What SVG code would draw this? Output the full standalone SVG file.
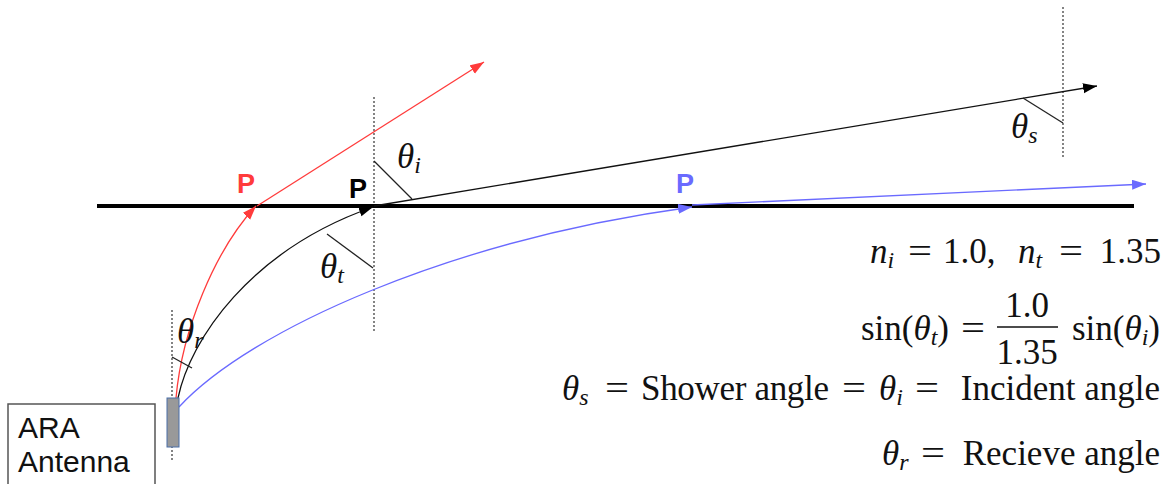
<svg xmlns="http://www.w3.org/2000/svg" width="1169" height="484" viewBox="0 0 1169 484">
<style>
.dot{stroke:#333;stroke-width:1.2;stroke-dasharray:2 2;fill:none}
.tick{stroke:#222;stroke-width:1.3;fill:none}
.m{font-family:"Liberation Serif","Times New Roman",serif;font-size:35px;fill:#111}
.mi{font-family:"Liberation Serif","Times New Roman",serif;font-size:35px;font-style:italic;fill:#111}
.sub{font-size:24px;font-style:italic}
.p{font-family:"Liberation Sans",Arial,sans-serif;font-size:27px;font-weight:bold}
.lbl{font-family:"Liberation Sans",Arial,sans-serif;font-size:30px;fill:#111}
</style>
<defs>
<marker id="ak" markerUnits="userSpaceOnUse" markerWidth="16" markerHeight="12" refX="14" refY="5" orient="auto"><path d="M0,0 L14,5 L0,10 z" fill="#000"/></marker>
<marker id="ar" markerUnits="userSpaceOnUse" markerWidth="16" markerHeight="12" refX="14" refY="5" orient="auto"><path d="M0,0 L14,5 L0,10 z" fill="#ff3b3b"/></marker>
<marker id="ab" markerUnits="userSpaceOnUse" markerWidth="16" markerHeight="12" refX="14" refY="5" orient="auto"><path d="M0,0 L14,5 L0,10 z" fill="#6a6aff"/></marker>
</defs>

<g id="guides">
<line class="dot" x1="374" y1="97" x2="374" y2="332"/>
<line class="dot" x1="1063" y1="7" x2="1063" y2="157"/>
<line class="dot" x1="172" y1="310" x2="172" y2="462"/>
</g>

<g id="surface">
<line x1="97" y1="206" x2="1134" y2="206" stroke="#000" stroke-width="4"/>
</g>

<g id="connectors">
<path d="M176,398 C182,330 215,250 256,206" fill="none" stroke="#ff3b3b" stroke-width="1.3" marker-end="url(#ar)"/>
<line x1="257" y1="206" x2="484" y2="62" stroke="#ff3b3b" stroke-width="1.3" marker-end="url(#ar)"/>
<path d="M178,398 C190,340 250,250 373,207" fill="none" stroke="#111" stroke-width="1.3" marker-end="url(#ak)"/>
<line x1="374" y1="206" x2="1097" y2="86" stroke="#111" stroke-width="1.3" marker-end="url(#ak)"/>
<path d="M179,407 C250,330 450,240 692,207" fill="none" stroke="#6a6aff" stroke-width="1.3" marker-end="url(#ab)"/>
<line x1="692" y1="205" x2="1146" y2="184" stroke="#6a6aff" stroke-width="1.3" marker-end="url(#ab)"/>
</g>

<g id="angle-marks">
<line class="tick" x1="374" y1="161" x2="412" y2="199"/>
<line class="tick" x1="327" y1="234" x2="373" y2="268"/>
<line class="tick" x1="172" y1="357" x2="192" y2="368"/>
<line class="tick" x1="1023" y1="98" x2="1063" y2="123"/>
</g>

<g id="angle-labels">
<text class="mi" x="397" y="168">θ<tspan class="sub" dy="5">i</tspan></text>
<text class="mi" x="320" y="278">θ<tspan class="sub" dy="5">t</tspan></text>
<text class="mi" x="177" y="343">θ<tspan class="sub" dy="5">r</tspan></text>
<text class="mi" x="1011" y="138">θ<tspan class="sub" dy="5">s</tspan></text>
</g>

<g id="p-labels">
<text class="p" x="246" y="193" text-anchor="middle" fill="#ff3b3b">P</text>
<text class="p" x="358" y="198" text-anchor="middle" fill="#000">P</text>
<text class="p" x="685" y="193" text-anchor="middle" fill="#6a6aff">P</text>
</g>

<g id="antenna">
<rect x="167" y="398" width="12" height="49" fill="#999" stroke="#4a6fa8" stroke-width="1"/>
</g>

<g id="ara-label">
<rect x="8" y="404" width="147" height="90" fill="#fff" stroke="#555" stroke-width="1.5"/>
<text class="lbl" x="18" y="438">ARA</text>
<text class="lbl" x="18" y="472">Antenna</text>
</g>

<g id="equations">
<text class="mi" x="870" y="263">n<tspan class="sub" dy="5">i</tspan></text>
<text class="m" x="908" y="263" textLength="24" lengthAdjust="spacingAndGlyphs">=</text>
<text class="m" x="943" y="263">1.0,</text>
<text class="mi" x="1018" y="263">n<tspan class="sub" dy="5">t</tspan></text>
<text class="m" x="1059" y="263" textLength="24" lengthAdjust="spacingAndGlyphs">=</text>
<text class="m" x="1161" y="263" text-anchor="end">1.35</text>

<text class="m" x="949" y="340" text-anchor="end">sin(<tspan font-style="italic">θ</tspan><tspan class="sub" dy="5">t</tspan><tspan dy="-5">)</tspan></text>
<text class="m" x="961" y="340" textLength="24" lengthAdjust="spacingAndGlyphs">=</text>
<text class="m" x="1027" y="317" text-anchor="middle">1.0</text>
<line x1="997" y1="327" x2="1058" y2="327" stroke="#111" stroke-width="1.5"/>
<text class="m" x="1027" y="364" text-anchor="middle">1.35</text>
<text class="m" x="1160" y="340" text-anchor="end">sin(<tspan font-style="italic">θ</tspan><tspan class="sub" dy="5">i</tspan><tspan dy="-5">)</tspan></text>

<text class="mi" x="562" y="400">θ<tspan class="sub" dy="5">s</tspan></text>
<text class="m" x="605" y="400" textLength="24" lengthAdjust="spacingAndGlyphs">=</text>
<text class="m" x="641" y="400" textLength="188" lengthAdjust="spacing">Shower angle</text>
<text class="m" x="842" y="400" textLength="24" lengthAdjust="spacingAndGlyphs">=</text>
<text class="mi" x="879" y="400">θ<tspan class="sub" dy="5">i</tspan></text>
<text class="m" x="915" y="400" textLength="24" lengthAdjust="spacingAndGlyphs">=</text>
<text class="m" x="1160" y="400" text-anchor="end">Incident angle</text>

<text class="mi" x="882" y="465">θ<tspan class="sub" dy="5">r</tspan></text>
<text class="m" x="921" y="465" textLength="24" lengthAdjust="spacingAndGlyphs">=</text>
<text class="m" x="1160" y="465" text-anchor="end">Recieve angle</text>
</g>
</svg>
